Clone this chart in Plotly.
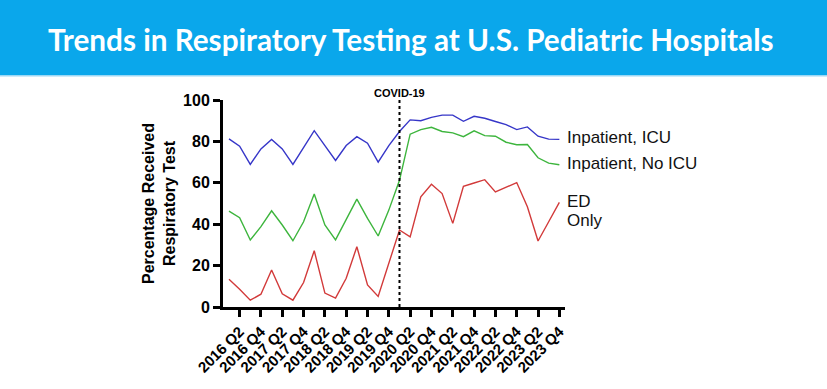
import plotly.graph_objects as go

quarters = [f"{y} Q{q}" for y in range(2016, 2024) for q in range(1, 5)]
tick_labels = [q for q in quarters if q.endswith("Q2") or q.endswith("Q4")]

icu = [81.2, 77.7, 68.9, 76.4, 80.9, 76.4, 68.9, 77.2, 85.2, 78.0, 70.8, 78.0,
       82.3, 79.1, 70.0, 78.0, 84.8, 90.4, 90.0, 91.6, 92.7, 92.7, 89.7, 92.1,
       91.2, 89.6, 88.1, 85.7, 87.0, 82.5, 81.1, 81.0]
no_icu = [46.3, 43.1, 32.4, 38.8, 46.5, 39.6, 32.0, 41.2, 54.6, 39.6, 32.4, 42.0,
          52.1, 42.8, 34.3, 46.8, 61.2, 83.5, 85.7, 86.8, 84.8, 84.1, 82.3, 85.1,
          82.8, 82.5, 79.6, 78.4, 78.5, 72.1, 69.5, 68.7]
ed_only = [13.4, 8.6, 3.3, 6.2, 17.9, 6.4, 3.3, 11.8, 27.2, 6.7, 4.3, 13.9,
           29.1, 10.7, 5.1, 21.2, 37.2, 33.9, 53.2, 59.3, 54.8, 40.4, 58.3, 59.9,
           61.5, 55.6, 58.0, 60.1, 48.4, 31.9, 41.2, 50.5]

label_lines = ["Inpatient, ICU", "Inpatient, No ICU", "ED", "Only"]
label_vals = [82.0, 69.4, 50.8, 42.0]
covid_quarter = "2020 Q1"

xi = list(range(len(quarters)))
tick_idx = [quarters.index(t) for t in tick_labels]
covid_idx = quarters.index(covid_quarter)

fig = go.Figure()
for vals, col in [(icu, "#3636C8"), (no_icu, "#3DB53D"), (ed_only, "#D23A3A")]:
    fig.add_trace(go.Scatter(x=xi, y=vals, mode="lines",
                             line=dict(color=col, width=1.4), showlegend=False,
                             hoverinfo="skip"))

fig.add_shape(type="line", xref="x", yref="y", x0=covid_idx, x1=covid_idx,
              y0=0, y1=100.5, line=dict(color="black", width=2, dash="dot"))
fig.add_annotation(x=covid_idx, y=1.0 + 7 / 207, xref="x", yref="paper",
                   text="<b>COVID-19</b>", showarrow=False, yanchor="middle",
                   font=dict(family="Liberation Sans, Arial", size=11, color="black"))

for name, yv in zip(label_lines, label_vals):
    fig.add_annotation(x=1.0, y=yv, xref="paper", yref="y", text=name,
                       showarrow=False, xanchor="left", xshift=0, align="left",
                       font=dict(family="Liberation Sans, Arial", size=17, color="#111"))

# header band (paper coords relative to plot area: width 342, height 207)
fig.add_shape(type="rect", xref="paper", yref="paper", x0=-1.0, x1=2.0,
              y0=1.0 + 25 / 207, y1=1.0 + 100 / 207, fillcolor="#0AA7EB",
              line=dict(width=0), layer="below")
fig.add_shape(type="rect", xref="paper", yref="paper", x0=-1.0, x1=2.0,
              y0=1.0 + 23.5 / 207, y1=1.0 + 25 / 207, fillcolor="#9BD8F5",
              line=dict(width=0), layer="below")
fig.add_annotation(x=(411 - 223) / 342, y=1.0 + 61 / 207, xref="paper", yref="paper",
                   xanchor="center", yanchor="middle", showarrow=False,
                   text="<b>Trends in Respiratory Testing at U.S. Pediatric Hospitals</b>",
                   font=dict(family="Lato", size=29.7, color="white"))

fig.update_layout(
    width=827, height=389,
    margin=dict(l=223, r=262, t=100, b=82),
    paper_bgcolor="white", plot_bgcolor="white",
    xaxis=dict(range=[-0.56, 31.53], tickvals=tick_idx, ticktext=tick_labels,
               tickangle=-45, showgrid=False, zeroline=False, automargin=False,
               showline=True, linecolor="black", linewidth=3,
               ticks="outside", ticklen=7, tickwidth=3, tickcolor="black",
               tickfont=dict(family="Liberation Sans, Arial", size=15, color="black",
                             weight="bold")),
    yaxis=dict(range=[0, 100], tickvals=[0, 20, 40, 60, 80, 100],
               showgrid=False, zeroline=False, automargin=False,
               showline=True, linecolor="black", linewidth=3,
               ticks="outside", ticklen=7, tickwidth=3, tickcolor="black",
               tickfont=dict(family="Liberation Sans, Arial", size=16, color="black",
                             weight="bold"),
               title=dict(text="<b>Percentage Received<br>Respiratory Test</b>",
                          font=dict(family="Liberation Sans, Arial", size=16,
                                    color="black"), standoff=4)),
)

fig.write_html("out.html", config={"displayModeBar": False},
               post_script="document.body.style.margin='0px';")
